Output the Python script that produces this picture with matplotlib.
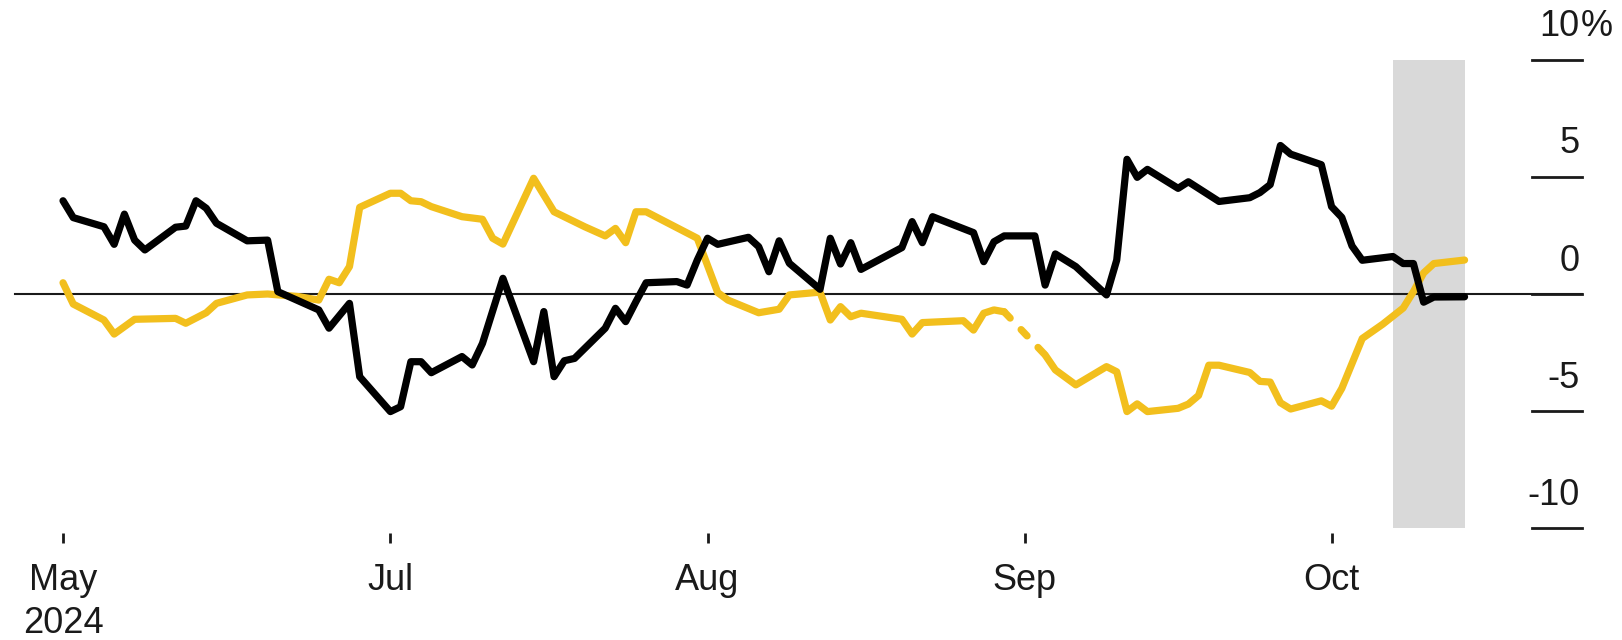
import numpy as np
import pandas as pd
import matplotlib
matplotlib.use("Agg")
import matplotlib.pyplot as plt

plt.rcParams['font.family'] = ['Liberation Sans', 'DejaVu Sans']

# cumulative change, %
black_dates = [
    "2024-05-30", "2024-05-31", "2024-06-03", "2024-06-04", "2024-06-05", "2024-06-06",
    "2024-06-07", "2024-06-10", "2024-06-11", "2024-06-12", "2024-06-13", "2024-06-14",
    "2024-06-17", "2024-06-19", "2024-06-20", "2024-06-24", "2024-06-25", "2024-06-27",
    "2024-06-28", "2024-07-01", "2024-07-02", "2024-07-03", "2024-07-04", "2024-07-05",
    "2024-07-08", "2024-07-09", "2024-07-10", "2024-07-12", "2024-07-15", "2024-07-16",
    "2024-07-17", "2024-07-18", "2024-07-19", "2024-07-22", "2024-07-23", "2024-07-24",
    "2024-07-25", "2024-07-26", "2024-07-29", "2024-07-30", "2024-07-31", "2024-08-01",
    "2024-08-02", "2024-08-05", "2024-08-06", "2024-08-07", "2024-08-08", "2024-08-09",
    "2024-08-12", "2024-08-13", "2024-08-14", "2024-08-15", "2024-08-16", "2024-08-20",
    "2024-08-21", "2024-08-22", "2024-08-23", "2024-08-27", "2024-08-28", "2024-08-29",
    "2024-08-30", "2024-09-02", "2024-09-03", "2024-09-04", "2024-09-06", "2024-09-09",
    "2024-09-10", "2024-09-11", "2024-09-12", "2024-09-13", "2024-09-16", "2024-09-17",
    "2024-09-20", "2024-09-23", "2024-09-24", "2024-09-25", "2024-09-26", "2024-09-27",
    "2024-09-30", "2024-10-01", "2024-10-02", "2024-10-03", "2024-10-04", "2024-10-07",
    "2024-10-08", "2024-10-09", "2024-10-10", "2024-10-11", "2024-10-14",
]
black_vals = [
    3.98, 3.26, 2.87, 2.12, 3.41, 2.30,
    1.88, 2.85, 2.90, 3.98, 3.66, 3.02,
    2.27, 2.30, 0.10, -0.68, -1.46, -0.40,
    -3.53, -5.02, -4.81, -2.89, -2.89, -3.36,
    -2.67, -3.03, -2.11, 0.67, -2.89, -0.75,
    -3.53, -2.85, -2.75, -1.46, -0.61, -1.18,
    -0.33, 0.48, 0.53, 0.38, 1.45, 2.38,
    2.12, 2.42, 2.02, 0.95, 2.27, 1.31,
    0.20, 2.38, 1.28, 2.19, 1.05, 1.98,
    3.09, 2.19, 3.30, 2.62, 1.38, 2.23,
    2.48, 2.48, 0.38, 1.71, 1.17, -0.04,
    1.45, 5.75, 4.98, 5.32, 4.51, 4.79,
    3.95, 4.11, 4.33, 4.67, 6.34, 5.97,
    5.52, 3.73, 3.27, 2.05, 1.44, 1.60,
    1.30, 1.30, -0.35, -0.13, -0.12,
]

gold_dates = [
    "2024-05-30", "2024-05-31", "2024-06-03", "2024-06-04", "2024-06-06", "2024-06-10",
    "2024-06-11", "2024-06-13", "2024-06-14", "2024-06-17", "2024-06-19", "2024-06-22",
    "2024-06-24", "2024-06-25", "2024-06-26", "2024-06-27", "2024-06-28", "2024-07-01",
    "2024-07-02", "2024-07-03", "2024-07-04", "2024-07-05", "2024-07-08", "2024-07-10",
    "2024-07-11", "2024-07-12", "2024-07-15", "2024-07-17", "2024-07-20", "2024-07-22",
    "2024-07-23", "2024-07-24", "2024-07-25", "2024-07-26", "2024-07-31", "2024-08-02",
    "2024-08-03", "2024-08-06", "2024-08-08", "2024-08-09", "2024-08-12", "2024-08-13",
    "2024-08-14", "2024-08-15", "2024-08-16", "2024-08-20", "2024-08-21", "2024-08-22",
    "2024-08-26", "2024-08-27", "2024-08-28", "2024-08-29", "2024-08-30", "2024-09-03",
    "2024-09-04", "2024-09-06", "2024-09-09", "2024-09-10", "2024-09-11", "2024-09-12",
    "2024-09-13", "2024-09-16", "2024-09-17", "2024-09-18", "2024-09-19", "2024-09-20",
    "2024-09-23", "2024-09-24", "2024-09-25", "2024-09-26", "2024-09-27", "2024-09-30",
    "2024-10-01", "2024-10-02", "2024-10-04", "2024-10-06", "2024-10-08", "2024-10-09",
    "2024-10-10", "2024-10-11", "2024-10-14",
]
gold_vals = [
    0.48, -0.43, -1.11, -1.71, -1.08, -1.04,
    -1.25, -0.80, -0.40, -0.04, 0.00, -0.11,
    -0.26, 0.63, 0.48, 1.17, 3.70, 4.30,
    4.30, 3.98, 3.94, 3.73, 3.30, 3.19,
    2.38, 2.13, 4.94, 3.51, 2.87, 2.48,
    2.80, 2.19, 3.51, 3.51, 2.38, 0.06,
    -0.26, -0.80, -0.65, -0.04, 0.08, -1.11,
    -0.54, -0.97, -0.82, -1.08, -1.71, -1.22,
    -1.14, -1.54, -0.82, -0.68, -0.76, -2.60,
    -3.24, -3.88, -3.10, -3.32, -5.02, -4.69,
    -5.02, -4.88, -4.70, -4.33, -3.04, -3.04,
    -3.35, -3.73, -3.76, -4.64, -4.91, -4.56,
    -4.79, -4.03, -1.90, -1.29, -0.60, 0.10,
    0.90, 1.30, 1.45,
]
# no gold quote between these two days, bridged with a dashed segment
gold_gap = ("2024-08-30", "2024-09-03")

tick_dates = ["2024-05-30", "2024-07-01", "2024-08-01", "2024-09-01", "2024-10-01"]
tick_labels = ["May", "Jul", "Aug", "Sep", "Oct"]
first_year = "2024"
y_ticks = [10, 5, 0, -5, -10]
shade_span = ("2024-10-07", "2024-10-14")

GOLD = "#F2BF1D"
INK = "#1a1a1a"
SHADE = "#D9D9D9"
FS = 26
LW = 5.2

bx = pd.to_datetime(black_dates)
gx = pd.to_datetime(gold_dates)
gy = np.array(gold_vals)

fig = plt.figure(figsize=(16.22, 6.4), dpi=100)
ax = fig.add_axes([0, 0, 1, 1])
ax.axis("off")

aug1 = pd.Timestamp("2024-08-01")
ax.set_xlim(aug1 - pd.Timedelta(days=69.16), aug1 + pd.Timedelta(days=89.39))
ax.set_ylim(-14.77, 12.55)

# shaded week
s0, s1 = pd.to_datetime(shade_span)
ax.fill_between([s0, s1], -10, 10, color=SHADE, lw=0, zorder=0)

# zero line runs through to the right-hand scale
ax.axhline(0, xmin=0.0093, xmax=0.9753, color=INK, lw=1.5, zorder=1)

# right-hand scale: short rules with the value above
ytr = ax.get_yaxis_transform()
for v in y_ticks:
    ax.axhline(v, xmin=0.9445, xmax=0.9753, color=INK, lw=2, zorder=1)
    ax.text(0.9738, v + 1.0, str(v), transform=ytr, ha="right", va="baseline",
            fontsize=FS, color=INK)
    if v == max(y_ticks):
        ax.text(0.9745, v + 1.0, "%", transform=ytr, ha="left", va="baseline",
                fontsize=FS, color=INK)

# date ticks
td = pd.to_datetime(tick_dates)
ax.vlines(td, -10.63, -10.2, color=INK, lw=2)
for d, lab in zip(td, tick_labels):
    ax.text(d, -11.5, lab, ha="center", va="top", fontsize=FS, color=INK)
ax.text(td[0], -13.3, first_year, ha="center", va="top", fontsize=FS, color=INK)

line_kw = dict(lw=LW, solid_capstyle="round", solid_joinstyle="round", zorder=3)

# gold: solid either side of the gap, dashed across it
g0, g1 = pd.to_datetime(gold_gap)
before = gx <= g0
after = gx >= g1
ax.plot(gx[before], gy[before], color=GOLD, **line_kw)
ax.plot(gx[after], gy[after], color=GOLD, **line_kw)
i0 = np.where(before)[0][-1]
i1 = np.where(after)[0][0]
ax.plot([gx[i0], gx[i1]], [gy[i0], gy[i1]], color=GOLD, lw=LW,
        linestyle=(0, (1.2, 2.2)), dash_capstyle="round", zorder=3)

ax.plot(bx, black_vals, color="#000000", **line_kw)

fig.savefig("out.png", dpi=100, facecolor="white")
